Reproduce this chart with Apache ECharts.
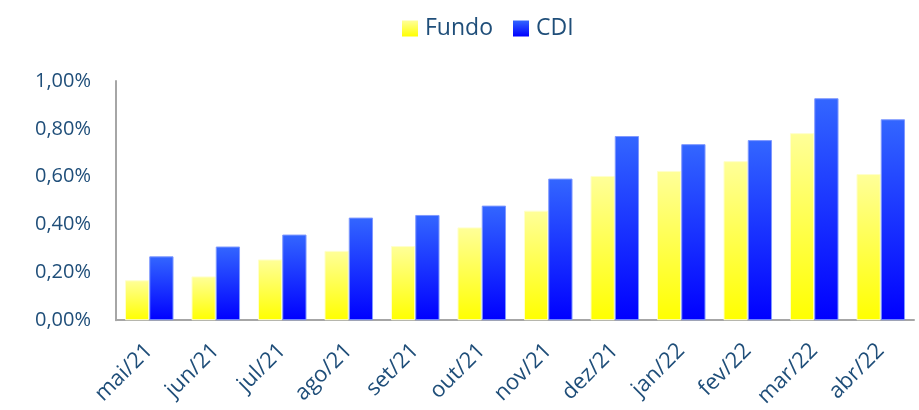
<!DOCTYPE html>
<html lang="pt">
<head>
    <meta charset="UTF-8">
    <title>Fundo x CDI</title>
    <script type="text/javascript" src="https://cdn.jsdelivr.net/npm/echarts@6/dist/echarts.min.js"></script>
    <style>body{margin:0;background:#fff;}</style>
</head>
<body>
<div id="main" style="width: 919px; height: 410px"></div>

<script type="text/javascript">
    // dados mensais (%)
    var meses = ['mai/21', 'jun/21', 'jul/21', 'ago/21', 'set/21', 'out/21', 'nov/21', 'dez/21', 'jan/22', 'fev/22', 'mar/22', 'abr/22'];
    var fundo = [0.167, 0.183, 0.254, 0.29, 0.31, 0.388, 0.458, 0.603, 0.624, 0.665, 0.782, 0.611];
    var cdi = [0.267, 0.308, 0.358, 0.429, 0.44, 0.479, 0.592, 0.77, 0.736, 0.753, 0.928, 0.84];

    var myChart = echarts.init(document.getElementById('main'));
    var fonte = 'Open Sans, Lato, sans-serif';
    var corTexto = '#1f4e79';

    function grad(top, bottom) {
        return new echarts.graphic.LinearGradient(0, 0, 0, 1, [
            {offset: 0, color: top},
            {offset: 1, color: bottom}
        ]);
    }

    var option = {
        animation: false,
        legend: {
            top: 12,
            left: 397,
            icon: 'rect',
            itemWidth: 16,
            itemHeight: 16,
            itemGap: 20,
            itemStyle: {borderWidth: 0},
            textStyle: {color: corTexto, fontSize: 23, fontFamily: fonte, padding: [0, 0, 0, 2]},
            data: ['Fundo', 'CDI']
        },
        grid: {left: 116, right: 5, top: 81, bottom: 89},
        xAxis: {
            type: 'category',
            data: meses,
            axisLine: {lineStyle: {color: '#a6a6a6', width: 2}},
            axisTick: {show: false},
            axisLabel: {
                rotate: 45,
                interval: 0,
                color: corTexto,
                fontSize: 22,
                fontFamily: fonte,
                margin: 27
            }
        },
        yAxis: {
            type: 'value',
            min: 0,
            max: 1,
            interval: 0.2,
            axisLine: {show: true, lineStyle: {color: '#a6a6a6', width: 2}},
            axisTick: {show: false},
            splitLine: {show: false},
            axisLabel: {
                color: corTexto,
                fontSize: 20,
                fontFamily: fonte,
                margin: 25,
                formatter: function (v) {
                    return v.toFixed(2).replace('.', ',') + '%';
                }
            }
        },
        series: [{
            name: 'Fundo',
            type: 'bar',
            data: fundo,
            barGap: '0%',
            barCategoryGap: '27%',
            itemStyle: {color: grad('#ffff99', '#ffff00'), borderColor: '#ffffcc', borderWidth: 1}
        }, {
            name: 'CDI',
            type: 'bar',
            data: cdi,
            itemStyle: {color: grad('#3366ff', '#0000ff'), borderColor: '#7f99ff', borderWidth: 1}
        }]
    };

    myChart.setOption(option);
</script>
</body>
</html>
